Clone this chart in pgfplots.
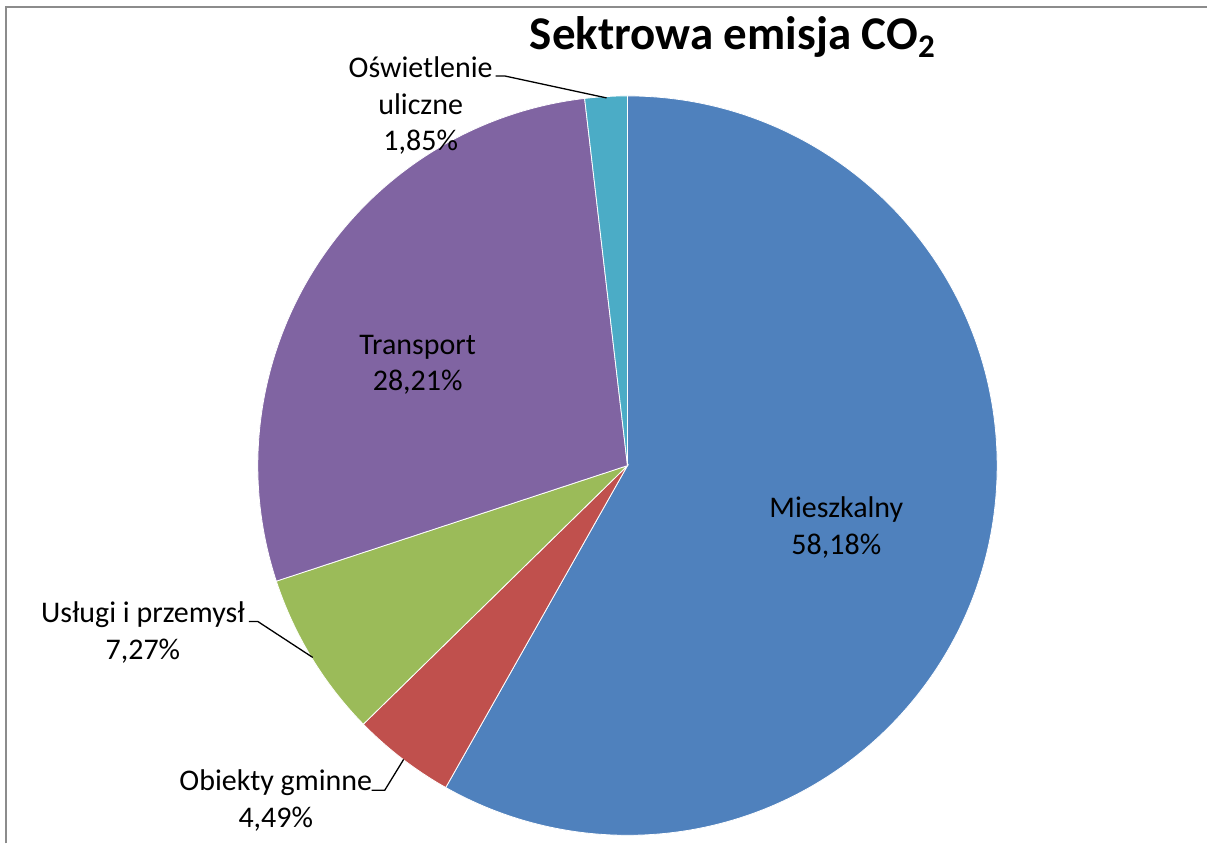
\documentclass[border=0pt]{standalone}
\usepackage{fontspec}
\setmainfont{Carlito}
\usepackage{pgfplots}
\pgfplotsset{compat=1.18}
\definecolor{cBlue}{HTML}{4F81BD}
\definecolor{cRed}{HTML}{C0504D}
\definecolor{cGreen}{HTML}{9BBB59}
\definecolor{cPurple}{HTML}{8064A2}
\definecolor{cTeal}{HTML}{4BACC6}
\definecolor{frameGray}{HTML}{8C8C8C}
% shares in percent, clockwise from 12 o'clock
\def\vA{58.18}% Mieszkalny
\def\vB{4.49}%  Obiekty gminne
\def\vC{7.27}%  Uslugi i przemysl
\def\vD{28.21}% Transport
\def\vE{1.85}%  Oswietlenie uliczne
\begin{document}
\begin{tikzpicture}
\begin{axis}[width=1208pt,height=844pt,scale only axis,
  xmin=0,xmax=1208,ymin=0,ymax=844,hide axis,clip=false]
\path (axis cs:0,0) rectangle (axis cs:1208,844);
% frame
\draw[frameGray,line width=2pt] (axis cs:6,0) -- (axis cs:6,837) -- (axis cs:1208,837);
% slices
\filldraw[fill=cBlue,draw=white,line width=0.8pt] (axis cs:628,378) -- ++(90:370pt)
  arc[start angle=90,end angle={90-3.6*\vA},radius=370pt] -- cycle;
\filldraw[fill=cRed,draw=white,line width=0.8pt] (axis cs:628,378) -- ++({90-3.6*\vA}:370pt)
  arc[start angle={90-3.6*\vA},end angle={90-3.6*(\vA+\vB)},radius=370pt] -- cycle;
\filldraw[fill=cGreen,draw=white,line width=0.8pt] (axis cs:628,378) -- ++({90-3.6*(\vA+\vB)}:370pt)
  arc[start angle={90-3.6*(\vA+\vB)},end angle={90-3.6*(\vA+\vB+\vC)},radius=370pt] -- cycle;
\filldraw[fill=cPurple,draw=white,line width=0.8pt] (axis cs:628,378) -- ++({90-3.6*(\vA+\vB+\vC)}:370pt)
  arc[start angle={90-3.6*(\vA+\vB+\vC)},end angle={90-3.6*(\vA+\vB+\vC+\vD)},radius=370pt] -- cycle;
\filldraw[fill=cTeal,draw=white,line width=0.8pt] (axis cs:628,378) -- ++({90-3.6*(\vA+\vB+\vC+\vD)}:370pt)
  arc[start angle={90-3.6*(\vA+\vB+\vC+\vD)},end angle={90-3.6*(\vA+\vB+\vC+\vD+\vE)},radius=370pt] -- cycle;
% leader lines
\draw[black,line width=1.3pt] (axis cs:249,222) -- (axis cs:258,222) -- (axis cs:313,186);
\draw[black,line width=1.3pt] (axis cs:372,53) -- (axis cs:385,53) -- (axis cs:404,84);
\draw[black,line width=1.3pt] (axis cs:496,768) -- (axis cs:505,768) -- (axis cs:607,746);
% labels
\tikzset{lab/.style={align=center,inner sep=0pt,font=\fontsize{30}{36.5}\selectfont}}
\node[lab] at (axis cs:837,316) {Mieszkalny\\58,18\%};
\node[lab] at (axis cs:418,479) {Transport\\28,21\%};
\node[lab] at (axis cs:143,211) {Usługi i przemysł\\7,27\%};
\node[lab] at (axis cs:276,43) {Obiekty gminne\\4,49\%};
\node[lab] at (axis cs:421,738) {Oświetlenie\\uliczne\\1,85\%};
% title
\node[anchor=base,inner sep=0pt,font=\fontsize{47}{56}\selectfont\bfseries] at (axis cs:733,794)
  {Sektrowa emisja CO\raisebox{-8pt}{\fontsize{33}{33}\selectfont 2}};
\end{axis}
\end{tikzpicture}
\end{document}
